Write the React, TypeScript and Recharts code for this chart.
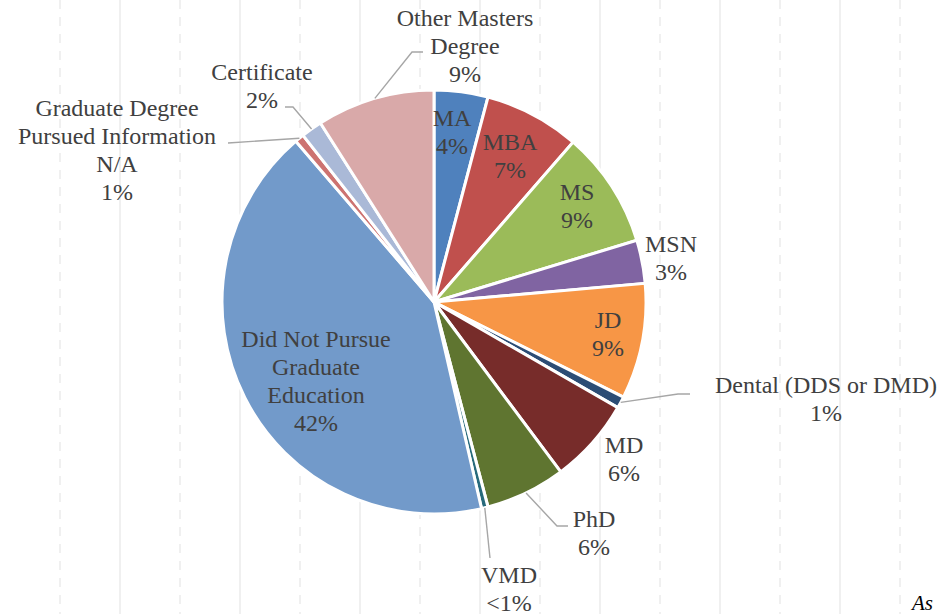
import React from "react";
import { Cell, Pie, PieChart } from "recharts";

const categories = [
  "MA",
  "MBA",
  "MS",
  "MSN",
  "JD",
  "Dental (DDS or DMD)",
  "MD",
  "PhD",
  "VMD",
  "Did Not Pursue Graduate Education",
  "Graduate Degree Pursued Information N/A",
  "Certificate",
  "Other Masters Degree",
];
const shares = [4.1, 7.3, 8.9, 3.3, 8.8, 0.9, 6.5, 6.1, 0.5, 42.3, 0.7, 1.6, 9.0];
const pctLabels = ["4%", "7%", "9%", "3%", "9%", "1%", "6%", "6%", "<1%", "42%", "1%", "2%", "9%"];
const nameLines = [
  ["MA"],
  ["MBA"],
  ["MS"],
  ["MSN"],
  ["JD"],
  ["Dental (DDS or DMD)"],
  ["MD"],
  ["PhD"],
  ["VMD"],
  ["Did Not Pursue", "Graduate", "Education"],
  ["Graduate Degree", "Pursued Information", "N/A"],
  ["Certificate"],
  ["Other Masters", "Degree"],
];
const colors = [
  "#4f81bd",
  "#c0504d",
  "#9bbb59",
  "#8064a2",
  "#f79646",
  "#2c4d75",
  "#772c2a",
  "#5f7530",
  "#276a7c",
  "#729aca",
  "#cd7371",
  "#aab9d7",
  "#d9a9a9",
];

// label anchor (first baseline) relative to the pie centre, and leader elbows
const labelPos = [
  [18, -176],
  [76, -152],
  [143, -102],
  [237, -50],
  [174, 26],
  [392, 91],
  [190, 151],
  [160, 225],
  [75, 281],
  [-118, 45],
  [-317, -186],
  [-172, -222],
  [31, -276],
];
const leaders: Record<number, number[][]> = {
  5: [[244, 92], [256, 92]],
  7: [[123, 224], [134, 224]],
  8: [[56, 256]],
  10: [[-206, -159]],
  11: [[-141, -195], [-149, -195]],
  12: [[-22, -250], [-11, -250]],
};

const W = 937;
const H = 614;
const CX = 434;
const CY = 302;
const R = 212;
const RAD = Math.PI / 180;
const FONT = "'Liberation Serif', 'Times New Roman', serif";
const TEXT = "#404040";

const data = categories.map((name, i) => ({ name, value: shares[i] }));

function renderLabel(props: any) {
  const i = props.index;
  const cx = props.cx ?? CX;
  const cy = props.cy ?? CY;
  const r = props.outerRadius ?? R;
  const mid = props.midAngle;
  const ex = cx + Math.cos(-mid * RAD) * r;
  const ey = cy + Math.sin(-mid * RAD) * r;
  const lines = [...nameLines[i], pctLabels[i]];
  const [dx, dy] = labelPos[i];
  const pts = leaders[i];
  return (
    <g key={"lab" + i}>
      {pts && (
        <polyline
          points={[[ex, ey], ...pts.map(([px, py]) => [cx + px, cy + py])].map((p) => p.join(",")).join(" ")}
          fill="none"
          stroke="#a6a6a6"
          strokeWidth={1.4}
        />
      )}
      <text x={cx + dx} y={cy + dy} textAnchor="middle" fill={TEXT} fontSize={24} fontFamily={FONT}>
        {lines.map((t, k) => (
          <tspan key={k} x={cx + dx} dy={k === 0 ? 0 : 28}>
            {t}
          </tspan>
        ))}
      </text>
    </g>
  );
}

const gridX = Array.from({ length: 15 }, (_, k) => (k + 1) * 60);

export default function App() {
  return (
    <div style={{ position: "absolute", left: 0, top: 0, width: W, height: H, background: "#fff", overflow: "hidden" }}>
      <svg width={W} height={H} style={{ position: "absolute", left: 0, top: 0 }}>
        {gridX.map((x, k) => (
          <line
            key={x}
            x1={x}
            x2={x}
            y1={0}
            y2={H}
            stroke="#ebebeb"
            strokeWidth={1.5}
            strokeDasharray={k % 2 === 0 ? "9 8" : undefined}
          />
        ))}
        <text x={912} y={610} fill="#000" fontSize={21} fontStyle="italic" fontFamily={FONT}>
          As
        </text>
      </svg>
      <div style={{ position: "absolute", left: 0, top: 0 }}>
        <PieChart width={W} height={H} margin={{ top: 0, right: 0, bottom: 0, left: 0 }}>
          <Pie
            data={data}
            dataKey="value"
            nameKey="name"
            cx={CX}
            cy={CY}
            outerRadius={R}
            startAngle={90}
            endAngle={-270}
            stroke="#fff"
            strokeWidth={3}
            label={renderLabel}
            labelLine={false}
            isAnimationActive={false}
          >
            {data.map((d, i) => (
              <Cell key={d.name} fill={colors[i]} />
            ))}
          </Pie>
        </PieChart>
      </div>
    </div>
  );
}
